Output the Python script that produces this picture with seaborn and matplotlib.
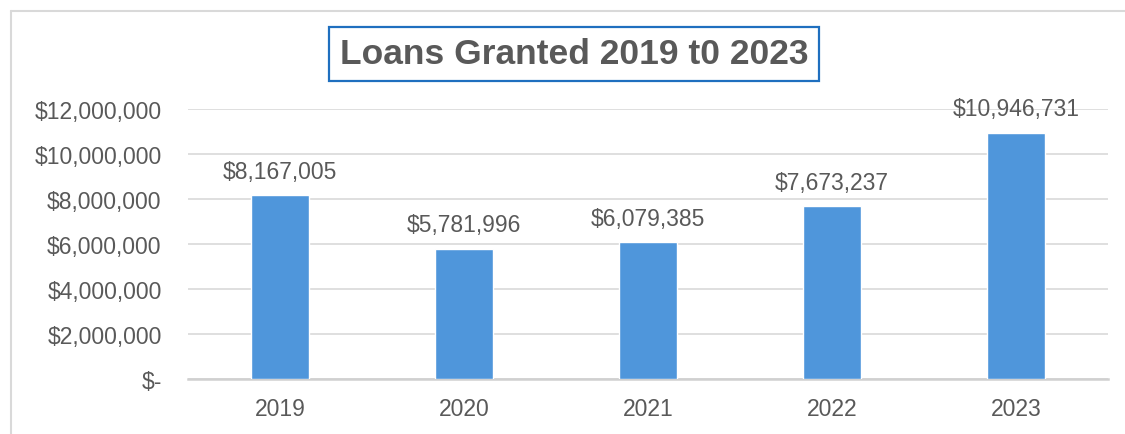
import matplotlib
matplotlib.use("Agg")
import matplotlib.pyplot as plt
from matplotlib.lines import Line2D
from matplotlib.ticker import FuncFormatter
import seaborn as sns
import pandas as pd

# Loan totals per year
years = ["2019", "2020", "2021", "2022", "2023"]
loans = [8167005, 5781996, 6079385, 7673237, 10946731]
title = "Loans Granted 2019 t0 2023"

BAR_COLOR = "#4F96DB"
TEXT_COLOR = "#595959"
GRID_COLOR = "#D9D9D9"

sns.set_theme(style="white")
plt.rcParams["font.family"] = ["Liberation Sans", "DejaVu Sans"]

W, H = 1125, 435
fig = plt.figure(figsize=(W / 100, H / 100), dpi=100)
ax = fig.add_axes([188 / W, 1 - 380 / H, (1108 - 188) / W, (380 - 110) / H])

df = pd.DataFrame({"year": years, "loans": loans})
sns.barplot(data=df, x="year", y="loans", color=BAR_COLOR, width=0.31,
            saturation=1, ax=ax, zorder=3)

ax.set_ylim(0, 12_000_000)
ax.set_yticks(range(0, 12_000_001, 2_000_000))
ax.yaxis.set_major_formatter(
    FuncFormatter(lambda v, _: "$-" if v == 0 else f"${v:,.0f}"))
ax.grid(axis="y", color=GRID_COLOR, linewidth=1.2, zorder=0)
ax.grid(axis="x", visible=False)
ax.set_xlabel("")
ax.set_ylabel("")
for side in ("top", "right", "left"):
    ax.spines[side].set_visible(False)
ax.spines["bottom"].set_color("#D0D0D0")
ax.spines["bottom"].set_linewidth(1.8)
ax.tick_params(axis="y", length=0, pad=19, labelsize=16.5, labelcolor=TEXT_COLOR)
ax.tick_params(axis="x", length=0, pad=13, labelsize=16.5, labelcolor=TEXT_COLOR)

for container in ax.containers:
    ax.bar_label(container, labels=[f"${v:,.0f}" for v in loans],
                 padding=9, fontsize=16.5, color=TEXT_COLOR)

# Title in an outlined box
fig.text(574 / W, 1 - 55 / H, title, ha="center", va="center",
         fontsize=25.5, fontweight="bold", color=TEXT_COLOR,
         bbox=dict(boxstyle="square,pad=0.3", facecolor="white",
                   edgecolor="#1F6FBF", linewidth=1.6))

# Chart-area frame (left and top edges)
fig.add_artist(Line2D([11 / W, 11 / W], [0, 1 - 12 / H], transform=fig.transFigure,
                      color=GRID_COLOR, linewidth=1.5))
fig.add_artist(Line2D([11 / W, 1], [1 - 12 / H, 1 - 12 / H], transform=fig.transFigure,
                      color=GRID_COLOR, linewidth=1.5))

fig.savefig("out.png", dpi=100, facecolor="white")
